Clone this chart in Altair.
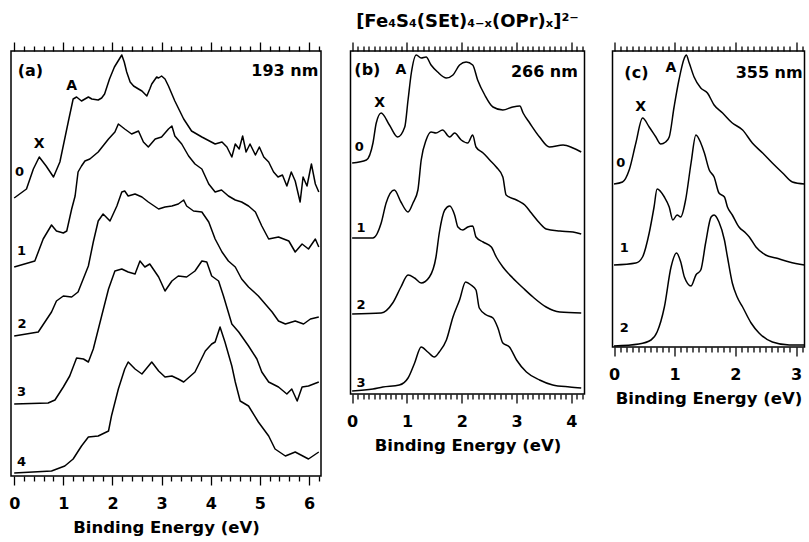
import altair as alt
import pandas as pd

FONT = "DejaVu Sans"

# ---------------------------------------------------------------
# Photoelectron spectra of [Fe4S4(SEt)4-x(OPr)x]2-, x = 0..4
# points are (binding energy / eV, intensity / arb. units incl. stacking offset)
# ---------------------------------------------------------------

# (a) 193 nm
a0 = [(0, 278), (0.25, 287), (0.39, 307), (0.51, 319), (0.65, 310), (0.80, 299), (0.93, 314),
      (1.10, 354), (1.20, 377), (1.27, 379), (1.37, 375), (1.44, 377), (1.51, 379), (1.58, 377),
      (1.71, 376), (1.78, 378), (1.84, 382), (1.94, 397), (2.04, 409), (2.19, 421), (2.24, 414),
      (2.29, 404), (2.36, 394), (2.43, 390), (2.53, 387), (2.60, 385), (2.70, 380), (2.76, 387),
      (2.80, 392), (2.90, 399), (2.94, 398), (3.00, 400), (3.07, 397), (3.14, 390), (3.27, 375),
      (3.45, 357), (3.61, 345), (3.82, 339), (4.09, 332), (4.23, 334), (4.33, 329), (4.43, 319),
      (4.50, 332), (4.58, 327), (4.65, 340), (4.72, 324), (4.80, 332), (4.91, 321), (4.99, 329),
      (5.08, 319), (5.18, 314), (5.28, 304), (5.37, 299), (5.46, 301), (5.55, 290), (5.64, 304),
      (5.72, 295), (5.82, 274), (5.88, 299), (5.96, 290), (6.05, 312), (6.13, 292), (6.20, 284)]
a1 = [(0, 209), (0.42, 215), (0.59, 237), (0.76, 251), (0.86, 245), (1.00, 243), (1.07, 245),
      (1.17, 267), (1.24, 280), (1.30, 304), (1.37, 310), (1.44, 315), (1.54, 317), (1.71, 324),
      (1.92, 337), (2.05, 344), (2.12, 352), (2.25, 347), (2.39, 342), (2.53, 345), (2.63, 334),
      (2.73, 329), (2.87, 337), (3.00, 339), (3.14, 347), (3.21, 350), (3.27, 340), (3.41, 332),
      (3.55, 320), (3.68, 312), (3.82, 307), (3.96, 292), (4.09, 284), (4.22, 286), (4.36, 280),
      (4.50, 276), (4.63, 274), (4.77, 270), (4.91, 264), (5.04, 250), (5.18, 237), (5.38, 239),
      (5.59, 235), (5.72, 224), (5.86, 232), (5.99, 227), (6.13, 237), (6.20, 229)]
a2 = [(0, 140), (0.49, 144), (0.76, 164), (0.86, 175), (1.00, 180), (1.17, 179), (1.30, 184),
      (1.51, 210), (1.61, 234), (1.71, 255), (1.81, 262), (1.95, 255), (2.09, 270), (2.19, 284),
      (2.25, 285), (2.32, 280), (2.46, 282), (2.60, 279), (2.73, 274), (2.94, 267), (3.07, 269),
      (3.21, 270), (3.34, 272), (3.45, 276), (3.51, 270), (3.65, 265), (3.82, 264), (3.96, 254),
      (4.09, 237), (4.23, 224), (4.36, 215), (4.50, 209), (4.63, 197), (4.77, 189), (4.97, 180),
      (5.11, 172), (5.25, 164), (5.38, 155), (5.52, 152), (5.72, 155), (5.89, 152), (6.03, 157),
      (6.20, 159)]
a3 = [(0, 72), (0.69, 73), (0.83, 76), (1.00, 89), (1.13, 100), (1.20, 109), (1.27, 118),
      (1.41, 117), (1.51, 114), (1.61, 127), (1.78, 160), (1.92, 187), (2.05, 205), (2.19, 207),
      (2.32, 204), (2.46, 202), (2.56, 215), (2.66, 209), (2.76, 212), (2.94, 199), (3.07, 185),
      (3.21, 195), (3.34, 200), (3.51, 199), (3.68, 205), (3.82, 215), (3.92, 214), (4.02, 200),
      (4.16, 195), (4.26, 180), (4.43, 152), (4.57, 144), (4.77, 130), (4.94, 117), (5.04, 104),
      (5.18, 94), (5.38, 89), (5.55, 82), (5.65, 87), (5.76, 75), (5.86, 89), (5.99, 90),
      (6.20, 94)]
a4 = [(0, 3), (0.76, 5), (1.03, 10), (1.20, 17), (1.37, 30), (1.51, 39), (1.71, 40), (1.92, 45),
      (1.98, 60), (2.12, 87), (2.25, 107), (2.32, 114), (2.46, 107), (2.60, 102), (2.80, 114),
      (2.94, 105), (3.07, 99), (3.21, 100), (3.34, 97), (3.45, 94), (3.68, 104), (3.89, 125),
      (4.02, 132), (4.09, 134), (4.19, 149), (4.29, 134), (4.43, 110), (4.50, 94), (4.60, 75),
      (4.77, 70), (4.97, 54), (5.18, 40), (5.31, 27), (5.52, 20), (5.72, 24), (5.99, 17),
      (6.20, 24)]

# (b) 266 nm
b0 = [(0, 231), (0.26, 234), (0.38, 251), (0.44, 271), (0.53, 281), (0.68, 269), (0.83, 257),
      (0.96, 267), (1.02, 294), (1.08, 321), (1.17, 339), (1.26, 336), (1.35, 337), (1.44, 329),
      (1.56, 322), (1.72, 316), (1.84, 319), (1.96, 329), (2.08, 332), (2.20, 329), (2.29, 314),
      (2.42, 299), (2.57, 287), (2.75, 284), (2.93, 287), (3.06, 288), (3.12, 281), (3.24, 271),
      (3.42, 257), (3.60, 247), (3.85, 249), (4.03, 246), (4.18, 242)]
b1 = [(0, 156), (0.38, 156), (0.53, 171), (0.62, 191), (0.77, 204), (0.89, 192), (1.02, 182),
      (1.11, 191), (1.20, 204), (1.26, 234), (1.35, 254), (1.44, 262), (1.53, 261), (1.65, 264),
      (1.78, 257), (1.87, 261), (1.99, 254), (2.11, 251), (2.20, 259), (2.26, 247), (2.39, 241),
      (2.51, 234), (2.63, 227), (2.75, 217), (2.81, 199), (3.00, 194), (3.15, 189), (3.27, 181),
      (3.42, 171), (3.54, 165), (3.79, 163), (4.03, 162), (4.18, 160)]
b2 = [(0, 80), (0.53, 81), (0.74, 91), (0.89, 107), (1.02, 119), (1.14, 116), (1.26, 111),
      (1.41, 117), (1.53, 137), (1.59, 161), (1.69, 184), (1.78, 188), (1.87, 179), (1.93, 167),
      (2.02, 164), (2.11, 167), (2.20, 168), (2.26, 157), (2.39, 152), (2.54, 147), (2.63, 137),
      (2.75, 127), (2.93, 116), (3.12, 106), (3.30, 97), (3.54, 87), (3.79, 82), (4.18, 81)]
b3 = [(0, 3), (0.38, 5), (0.56, 7), (0.86, 9), (1.02, 16), (1.14, 31), (1.26, 47), (1.38, 42),
      (1.50, 37), (1.59, 42), (1.72, 54), (1.84, 77), (1.96, 94), (2.07, 112), (2.17, 109),
      (2.26, 104), (2.32, 86), (2.45, 79), (2.57, 76), (2.66, 66), (2.75, 51), (2.87, 47),
      (3.00, 34), (3.18, 22), (3.42, 14), (3.66, 9), (3.97, 7), (4.18, 6)]

# (c) 355 nm
c0 = [(0, 163), (0.14, 165), (0.25, 177), (0.36, 204), (0.47, 229), (0.58, 220), (0.69, 210),
      (0.77, 203), (0.85, 205), (0.91, 210), (0.99, 240), (1.07, 267), (1.16, 289), (1.19, 292),
      (1.24, 284), (1.32, 270), (1.43, 259), (1.54, 254), (1.65, 242), (1.79, 234), (1.95, 224),
      (2.12, 217), (2.28, 204), (2.45, 194), (2.61, 184), (2.78, 174), (2.94, 165), (3.14, 163)]
c1 = [(0, 82), (0.36, 84), (0.47, 90), (0.58, 114), (0.66, 140), (0.71, 158), (0.83, 150),
      (0.91, 140), (0.97, 127), (1.04, 132), (1.10, 130), (1.18, 147), (1.27, 184), (1.35, 212),
      (1.43, 204), (1.49, 194), (1.57, 177), (1.65, 170), (1.73, 154), (1.82, 150), (1.87, 140),
      (1.95, 132), (2.06, 120), (2.17, 114), (2.23, 110), (2.34, 100), (2.50, 92), (2.67, 89),
      (2.89, 85), (3.14, 82)]
c2 = [(0, 1), (0.41, 3), (0.61, 7), (0.71, 15), (0.83, 40), (0.94, 80), (1.03, 94), (1.10, 85),
      (1.16, 70), (1.27, 61), (1.35, 72), (1.43, 77), (1.51, 104), (1.60, 130), (1.65, 132),
      (1.73, 125), (1.82, 107), (1.87, 90), (1.95, 64), (2.03, 50), (2.12, 40), (2.26, 24),
      (2.39, 14), (2.61, 5), (2.89, 2), (3.14, 2)]

# trace numbers (x) placed at the left end of each spectrum: (E, I, text)
a_numbers = [(0.11, 304, "0"), (0.15, 225, "1"), (0.16, 152, "2"), (0.15, 84, "3"), (0.15, 14, "4")]
b_numbers = [(0.13, 247, "0"), (0.16, 166, "1"), (0.16, 89, "2"), (0.16, 11, "3")]
c_numbers = [(0.11, 184, "0"), (0.17, 99, "1"), (0.17, 19, "2")]

# band labels X and A on the x = 0 spectrum
a_bands = [(0.51, 332, "X"), (1.17, 390, "A")]
b_bands = [(0.50, 291, "X"), (0.89, 324, "A")]
c_bands = [(0.44, 240, "X"), (0.94, 279, "A")]

# panel tag (left) and photon wavelength (right)
a_tags = [(0.07, 405, "(a)", "left"), (6.19, 405, "193 nm", "right")]
b_tags = [(0.04, 324, "(b)", "left"), (4.12, 322, "266 nm", "right")]
c_tags = [(0.17, 274, "(c)", "left"), (3.11, 274, "355 nm", "right")]

# axis ticks: labelled majors every 1 eV, minors in between
a_major = [0, 1, 2, 3, 4, 5, 6]
a_minor = [round(0.2 * k, 1) for k in range(0, 32) if k % 5]
b_major = [0, 1, 2, 3, 4]
b_minor = [round(0.1 * k, 1) for k in range(0, 43) if k % 10]
c_major = [0, 1, 2, 3]
c_minor = [round(0.1 * k, 1) for k in range(0, 32) if k % 10]

TITLE = "[Fe\u2084S\u2084(SEt)\u2084\u208b\u2093(OPr)\u2093]\u00b2\u207b"


def spectra_frame(traces):
    rows = []
    for name, pts in traces:
        for e, i in pts:
            rows.append({"E": e, "I": i, "trace": name})
    return pd.DataFrame(rows)


def tick_axis(orient, values, size, labelled=False):
    kw = dict(orient=orient, values=values, domain=False, grid=False,
              tickSize=size, tickColor="black", tickWidth=1.3)
    if labelled:
        kw.update(labelFont=FONT, labelFontWeight="bold", labelFontSize=16, labelColor="black",
                  labelPadding=10, labelOverlap=False, labelFlush=False, format="d",
                  title="Binding Energy (eV)", titleFont=FONT, titleFontWeight="bold",
                  titleFontSize=16.5, titleColor="black", titlePadding=8)
    else:
        kw.update(labels=False, title=None)
    return alt.Axis(**kw)


def panel(traces, numbers, bands, tags, dom, major, minor, width, height,
          interpolate="linear", title=None):
    xs = alt.Scale(domain=dom, nice=False, zero=False)
    ys = alt.Scale(domain=[0, height], nice=False, zero=False)

    def xy(axis):
        return dict(x=alt.X("E:Q", scale=xs, axis=axis),
                    y=alt.Y("I:Q", scale=ys, axis=None))

    lines = alt.Chart(spectra_frame(traces)).mark_line(
        color="black", strokeWidth=1.5, strokeJoin="round", interpolate=interpolate
    ).encode(detail="trace:N", order="E:Q", **xy(tick_axis("bottom", major, 9, labelled=True)))

    num_df = pd.DataFrame(numbers, columns=["E", "I", "text"])
    num_layer = alt.Chart(num_df).mark_text(
        font=FONT, fontWeight="bold", fontSize=13, color="black", baseline="middle"
    ).encode(text="text:N", **xy(tick_axis("top", major, 9)))

    band_df = pd.DataFrame(bands, columns=["E", "I", "text"])
    band_layer = alt.Chart(band_df).mark_text(
        font=FONT, fontWeight="bold", fontSize=14, color="black", baseline="middle"
    ).encode(text="text:N", **xy(tick_axis("bottom", minor, 5)))

    tag_df = pd.DataFrame(tags, columns=["E", "I", "text", "side"])
    tag_left = alt.Chart(tag_df[tag_df.side == "left"]).mark_text(
        font=FONT, fontWeight="bold", fontSize=16, color="black", baseline="middle", align="left"
    ).encode(text="text:N", **xy(tick_axis("top", minor, 5)))
    tag_right = alt.Chart(tag_df[tag_df.side == "right"]).mark_text(
        font=FONT, fontWeight="bold", fontSize=16, color="black", baseline="middle", align="right"
    ).encode(text="text:N", **xy(None))

    props = dict(width=width, height=height)
    if title is not None:
        props["title"] = alt.TitleParams(
            text=title, font=FONT, fontWeight="bold", fontSize=18, color="black",
            anchor="middle", offset=10,
        )
    return (
        alt.layer(lines, num_layer, band_layer, tag_left, tag_right)
        .resolve_axis(x="independent")
        .properties(**props)
    )


# the noisy 193 nm spectra are joined point to point, the cleaner ones smoothly
pa = panel([("0", a0), ("1", a1), ("2", a2), ("3", a3), ("4", a4)],
           a_numbers, a_bands, a_tags, [-0.065, 6.245], a_major, a_minor, 310, 425)
pb = panel([("0", b0), ("1", b1), ("2", b2), ("3", b3)],
           b_numbers, b_bands, b_tags, [-0.03, 4.24], b_major, b_minor, 234, 343,
           interpolate="monotone", title=TITLE)
pc = panel([("0", c0), ("1", c1), ("2", c2)],
           c_numbers, c_bands, c_tags, [-0.025, 3.14], c_major, c_minor, 192, 296,
           interpolate="monotone")

chart = (
    alt.hconcat(pa, alt.hconcat(pb, pc, spacing=28, bounds="flush"), spacing=29.5, bounds="flush")
    .configure_view(stroke="black", strokeWidth=1.5)
    .properties(padding={"left": 7, "top": 12, "right": 0, "bottom": 0}, background="white")
)

chart.save("out.html", embed_options={"renderer": "svg", "actions": False})
